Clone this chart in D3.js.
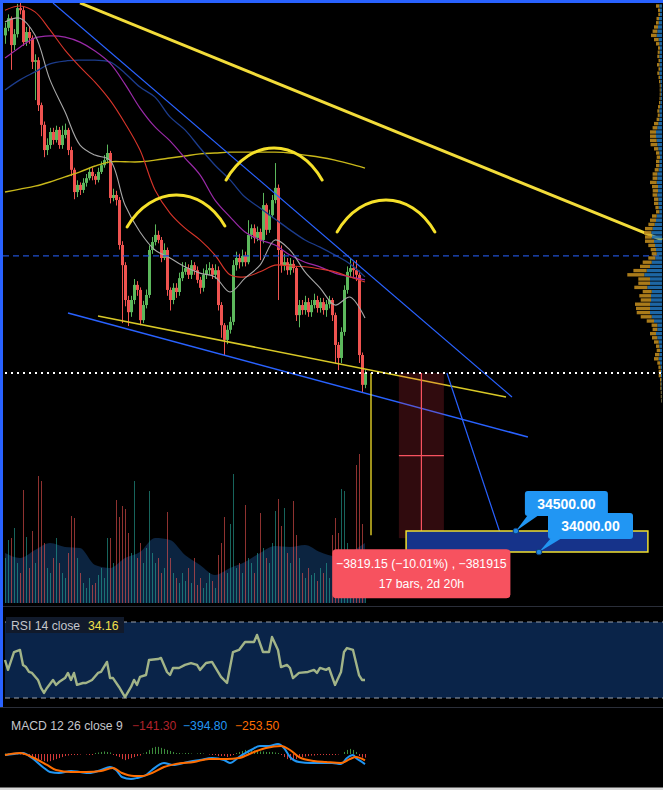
<!DOCTYPE html>
<html><head><meta charset="utf-8">
<script src="https://cdn.jsdelivr.net/npm/d3@7"></script>
<style>html,body{margin:0;padding:0;background:#000;}svg{display:block;}</style>
</head><body>
<script>
// ---------- DATA ----------
const opens=[46300,46480,46710,46070,46330,46950,46900,46140,46380,46240,
45670,45710,44640,44170,43570,43690,44000,43810,44050,43690,
43930,44050,43570,43100,42570,42740,42620,42790,42900,43050,
42950,42860,43050,43210,43330,43500,42430,42500,42380,41310,
40830,40000,39710,40000,40360,40240,39520,39880,40120,41190,
41380,41550,41430,41000,41190,40240,40000,40290,40190,40520,
40670,40760,40600,40830,40710,40480,40290,40600,40710,40760,
40600,40710,39880,39400,39050,39290,39480,40830,41000,40900,
41050,40900,41550,41710,41480,41620,41430,42260,41670,42020,
42380,42670,41190,40830,40900,40710,40860,40760,39640,39880,
39760,39950,39710,39880,40000,39810,39950,39760,39900,40000,
39640,38930,38620,39240,40240,40670,40760,40710,40600,38690,
37980];
const highs=[46600,46800,46750,46450,47050,47100,46980,46500,46500,46300,
45850,45780,44700,44250,43850,44100,44100,44150,44120,44150,
44200,44100,43650,43150,42850,42800,42900,43000,43150,43150,
43000,43150,43300,43450,43700,43550,42650,42600,42450,41400,
40900,40100,40100,40500,40450,40300,39980,40250,41300,41500,
41800,41650,41500,41350,41250,40300,40400,40400,40650,40900,
40900,40850,40950,40900,40800,40550,40750,40850,40900,40850,
40850,40800,39950,39450,39400,39600,40950,41150,41100,41200,
41150,41900,41800,41800,41750,41700,42550,42300,42150,42500,
43260,42750,41300,41100,41000,41000,40950,40800,40000,40000,
40100,40050,40000,40150,40100,40050,40050,40000,40100,40050,
39700,39000,39350,40350,40800,41000,40900,40950,40700,38750,
38330];
const lows=[46100,46400,45480,45950,46250,46800,46050,46050,46100,45500,
44760,44500,43900,43400,43450,43600,43700,43750,43600,43600,
43850,43450,42950,42400,42450,42500,42550,42700,42850,42850,
42750,42800,43000,43150,43250,42300,42350,42250,41200,39450,
39850,39380,39600,39900,40100,39400,39450,39800,40050,41100,
41300,41350,40900,40950,40100,39750,39900,40050,40100,40450,
40600,40500,40500,40600,40400,40150,40200,40500,40600,40500,
40500,39750,39100,38690,38950,39200,39400,40700,40750,40800,
40800,40850,41450,41350,41400,40950,41350,41550,41600,41950,
42300,40000,40650,40700,40600,40600,40650,39500,39350,39650,
39650,39600,39600,39800,39700,39700,39650,39600,39800,39500,
38500,38330,38500,39150,40150,40550,40550,40450,38500,37800,
37900];
const closes=[46480,46710,46070,46330,46950,46900,46140,46380,46240,45670,
45710,44640,44170,43570,43690,44000,43810,44050,43690,43930,
44050,43570,43100,42570,42740,42620,42790,42900,43050,42950,
42860,43050,43210,43330,43500,42430,42500,42380,41310,40830,
40000,39710,40000,40360,40240,39520,39880,40120,41190,41380,
41550,41430,41000,41190,40240,40000,40290,40190,40520,40670,
40760,40600,40830,40710,40480,40290,40600,40710,40760,40600,
40710,39880,39400,39050,39290,39480,40830,41000,40900,41050,
40900,41550,41710,41480,41620,41430,42260,41670,42020,42380,
42670,41190,40830,40900,40710,40860,40760,39640,39880,39760,
39950,39710,39880,40000,39810,39950,39760,39900,40000,39640,
38930,38620,39240,40240,40670,40760,40710,40600,38690,37980,
38260];
const volumes=[900,1260,1300,1500,800,600,2260,1320,700,1440,
800,2540,2440,1200,700,600,900,1300,800,600,
500,1000,1740,1700,900,600,400,300,500,360,
400,560,700,500,1300,1300,800,2060,1720,1940,
1880,1400,1000,2440,900,1200,800,1100,2240,1000,
800,900,600,700,1820,900,600,500,400,600,
440,700,400,900,360,500,300,400,600,440,
300,960,1200,1720,600,1580,2580,700,800,600,
1960,900,800,600,1000,1800,1100,900,800,1200,
1840,2080,1540,1900,1000,800,2040,1360,900,600,
500,700,560,600,440,700,600,800,500,1360,
1700,1400,2280,2240,1200,800,900,2760,2980,1580,
600];
// moving averages sampled every 5 bars
const maBars=[0,5,10,15,20,25,30,35,40,45,50,55,60,65,70,75,80,85,90,95,100,105,110,115,120];
const ma20=[46620,46710,46310,45240,44480,43690,43450,43330,42260,41620,41190,41000,40790,40640,40550,40190,40520,40830,41430,41190,40670,40290,39880,40070,39570];
const ma50=[46900,47000,46860,46430,45950,45550,45190,44760,44210,43570,42620,42070,41710,41430,41070,40600,40550,40670,40830,40810,40790,40740,40670,40550,40430];
const ma100=[45760,46020,46240,46290,46260,46140,45930,45640,45140,44570,44120,43790,43380,42980,42380,41980,41620,41430,41310,41070,40900,40790,40640,40550,40480];
const ma150=[45000,45240,45430,45620,45690,45710,45710,45670,45400,45070,44830,44360,44050,43620,43210,42860,42450,42190,41930,41670,41430,41260,41070,40860,40550];
const ma200=[42570,42640,42710,42810,42930,43050,43190,43290,43290,43290,43330,43380,43430,43480,43500,43520,43520,43520,43520,43500,43450,43400,43330,43240,43140];
const volMA=[1000,900,1060,1200,1120,1100,760,700,900,1020,1300,1260,960,760,560,700,820,1000,1140,1120,1160,1020,940,1020,1200];
// volume profile, rows of 100 from 47000 down
const vpTop=47000, vpStep=100;
const vpDown=[33,20,17,25,27,40,47,57,47,33,
20,20,20,15,25,15,20,15,13,10,
10,10,10,13,20,20,20,27,43,47,
60,60,67,67,43,33,33,33,33,40,
47,47,67,60,53,47,43,43,33,33,
47,60,63,77,73,67,90,67,53,50,
70,90,100,133,170,117,117,130,90,117,
103,150,140,133,110,73,57,47,60,53,
47,33,33,43,47,27,23,23,23,13,
10,10,7,7,5];
const vpUp=[27,20,20,30,33,40,47,53,33,27,
20,23,27,20,25,20,27,20,17,13,
13,13,15,17,20,27,23,27,37,47,
60,60,53,47,37,27,20,27,27,33,
47,47,53,40,40,47,37,37,33,27,
53,60,73,93,107,103,80,70,60,53,
67,103,120,153,177,120,120,147,103,110,
110,120,120,120,103,80,47,47,60,47,
33,27,20,27,33,20,13,10,10,7,
7,7,5,5,5];
// RSI
const rsiBars=[0,1,3,5,6,7,8,9,11,12,13,14,16,17,18,20,21,22,23,24,26,27,29,31,32,34,35,36,38,40,42,43,44,45,47,48,51,52,54,55,56,58,60,62,64,65,67,69,71,72,74,76,78,80,83,84,86,88,89,91,92,94,95,96,98,101,103,104,105,107,108,110,112,113,114,116,118,119,120];
const rsiVals=[50.0,44.8,54.2,55.3,47.4,46.3,43.7,43.2,39.5,35.3,32.7,35.3,39.5,36.9,38.4,40.5,43.2,39.5,43.2,36.9,37.9,37.9,39.5,43.2,43.7,49.0,40.5,40.5,35.8,30.5,35.8,39.5,36.9,41.1,42.1,50.0,50.5,51.1,43.7,42.1,45.8,45.8,47.4,48.4,47.4,44.8,48.4,49.0,43.7,41.1,37.9,54.2,55.3,59.5,59.5,63.2,54.2,54.2,62.1,55.3,46.3,47.4,45.8,40.5,43.2,43.7,44.8,43.2,45.8,44.8,45.8,36.9,43.7,54.2,56.3,55.3,42.1,39.5,39.5];
const rsiLevels=[70,30];
// MACD
const macdBars=[0,3,6,9,13,15,18,22,25,28,32,35,37,39,42,44,47,49,53,56,61,65,69,73,75,78,82,85,88,91,93,95,98,102,106,109,112,114,116,117,119,120];
const macdVals=[-39,0,39,-157,-549,-706,-745,-666,-706,-745,-627,-510,-627,-902,-980,-941,-823,-627,-353,-431,-314,-235,-157,-235,-353,-118,157,314,314,392,235,-118,-314,-353,-353,-353,-392,-157,-39,-157,-314,-395];
const signalBars=[0,5,9,14,17,22,27,32,36,39,43,46,49,53,57,63,68,74,78,83,87,92,95,98,103,107,112,115,117,120];
const signalVals=[-39,39,-118,-431,-627,-706,-706,-666,-549,-745,-862,-862,-745,-510,-392,-314,-196,-196,-157,78,235,314,157,-118,-274,-314,-353,-196,-118,-254];
const histVals=[20,20,10,0,-10,-20,-40,-40,-60,-80,
-160,-200,-240,-280,-300,-280,-240,-200,-160,-120,-80,-60,-40,
-40,-40,-20,0,-20,-40,-40,
40,60,80,100,80,60,
-40,-80,-120,-200,-240,-200,-160,-120,-80,-60,
20,80,160,240,280,280,240,200,160,120,80,
40,40,20,40,40,20,0,20,40,20,0,-20,-40,-40,-80,-80,
-80,-120,-80,-40,
40,80,120,160,160,160,140,120,100,100,80,80,80,60,40,
-40,-120,-200,-240,-240,-200,-160,-120,-100,-80,-60,-60,-40,-40,-40,-40,-40,-40,-40,
-20,0,
80,160,200,160,80,
-80,-140,-141];
// drawings (bar index, price)
const lastPrice=38260, keyLevel=41050;
const resistanceLine=[25,47072,219,41429];
const upperChannel=[16,47072,169,37690];
const wedgeSupport=[31,39619,167,37690];
const lowerChannel=[21,39690,174.3,36738];
const projectionLine=[147.3,38262,166.7,34095];
const hsArcs=[[40.7,41738,57.3,42500,73.3,41762],[73.7,42857,89.7,43619,105.7,42857],[110.7,41619,126.7,42381,143.3,41619]];
const measure={i0:131.3,i1:146.3,p0:38260,p1:34330};
const markerLine=[122,38260,34400];
const targetZone={i0:133.7,i1:214.3,p0:34500,p1:34000};
const targetLabels=[{i:170.3,p:34500,text:"34500.00"},{i:178,p:34000,text:"34000.00"}];
const measureText=["\u22123819.15 (\u221210.01%) , \u2212381915","17 bars, 2d 20h"];
const rsiLabel=["RSI 14 close","34.16"];
const macdLabel=["MACD 12 26 close 9","\u2212141.30","\u2212394.80","\u2212253.50"];

// ---------- DRAW ----------
const W=663,H=790;
const FONT="'Liberation Sans', Arial, sans-serif";
const GREEN="#5cb85c", RED="#ef5350";
const x=d3.scaleLinear().domain([0,120]).range([5,365]);
const y=d3.scaleLinear().domain([34000,47000]).range([552,6]);
const vy=d3.scaleLinear().domain([0,3000]).range([603,453]);
const vpW=d3.scaleLinear().domain([0,100]).range([0,10]);
const rsiY=d3.scaleLinear().domain([30,70]).range([698,622]);
const macdY=d3.scaleLinear().domain([-1000,1000]).range([779.5,728.5]);

const svg=d3.select("body").append("svg").attr("width",W).attr("height",H);
svg.append("rect").attr("width",W).attr("height",H).attr("fill","#000");
const defs=svg.append("defs");
defs.append("clipPath").attr("id","mainClip").append("rect").attr("x",3).attr("y",3).attr("width",660).attr("height",601);
defs.append("clipPath").attr("id","rsiClip").append("rect").attr("x",3).attr("y",608).attr("width",660).attr("height",98);
defs.append("clipPath").attr("id","macdClip").append("rect").attr("x",0).attr("y",709).attr("width",663).attr("height",78);

const main=svg.append("g").attr("clip-path","url(#mainClip)");

// volume MA area
main.append("path").datum(maBars.map((b,k)=>[b,volMA[k]]))
  .attr("d",d3.area().x(d=>x(d[0])).y0(vy(0)).y1(d=>vy(d[1])).curve(d3.curveMonotoneX))
  .attr("fill","#0c2440");
// volume bars
const up=i=>closes[i]>=opens[i];
main.append("g").selectAll("rect").data(volumes).join("rect")
  .attr("x",(d,i)=>Math.round(x(i))).attr("width",1)
  .attr("y",d=>vy(d)).attr("height",d=>vy(0)-vy(d))
  .attr("fill",(d,i)=>up(i)?"rgba(38,166,154,0.6)":"rgba(239,83,80,0.6)");
main.append("line").attr("x1",3).attr("x2",W).attr("y1",604.5).attr("y2",604.5).attr("stroke","#2a2e39");

// candles
const cg=main.append("g");
closes.forEach((c,i)=>{
  const o=opens[i], col=up(i)?GREEN:RED, cx=Math.round(x(i));
  cg.append("rect").attr("x",cx).attr("width",1).attr("y",y(highs[i])).attr("height",y(lows[i])-y(highs[i])).attr("fill",col);
  const top=y(Math.max(o,c)), bot=y(Math.min(o,c));
  cg.append("rect").attr("x",cx-1).attr("width",3).attr("y",top).attr("height",Math.max(1,bot-top)).attr("fill",col);
});

// moving averages
const maLine=d3.line().x(d=>x(d[0])).y(d=>y(d[1])).curve(d3.curveCatmullRom.alpha(0.5));
[[ma200,"#c9b81a",1.4],[ma150,"#1c3c8c",1.3],[ma100,"#9a2aa8",1.2],[ma50,"#d8352a",1.1],[ma20,"#a8a8a8",1.1]].forEach(([arr,col,w])=>{
  main.append("path").datum(maBars.map((b,k)=>[b,arr[k]])).attr("d",maLine)
    .attr("fill","none").attr("stroke",col).attr("stroke-width",w);
});

// key level dashed
main.append("line").attr("x1",3).attr("x2",W).attr("y1",y(keyLevel)).attr("y2",y(keyLevel))
  .attr("stroke","#1f4fcf").attr("stroke-width",1.4).attr("stroke-dasharray","6,4");

// trend lines
function seg(a,col,w){
  main.append("line").attr("x1",x(a[0])).attr("y1",y(a[1])).attr("x2",x(a[2])).attr("y2",y(a[3]))
    .attr("stroke",col).attr("stroke-width",w);
}
seg(upperChannel,"#2962ff",1.2);
seg(lowerChannel,"#2962ff",1.5);
seg(wedgeSupport,"#d9c927",1.5);
seg(resistanceLine,"#f2dc3a",3);
seg(projectionLine,"#2962ff",1.2);

// volume profile (over the long line)
const vpG=main.append("g");
vpDown.forEach((g,k)=>{
  const p=vpTop-k*vpStep, yc=y(p), b=vpW(vpUp[k]), gw=vpW(g);
  vpG.append("rect").attr("x",662-b).attr("width",b).attr("y",yc-1.7).attr("height",3.4).attr("fill","#1f6fb2").attr("fill-opacity",0.92);
  vpG.append("rect").attr("x",662-b-gw).attr("width",gw).attr("y",yc-1.7).attr("height",3.4).attr("fill","#b8861c").attr("fill-opacity",0.92);
});

// head & shoulders arcs
hsArcs.forEach(a=>{
  const x0=x(a[0]),y0=y(a[1]),yp=y(a[3]),x1=x(a[4]),y1=y(a[5]);
  const base=(y0+y1)/2, h=base-yp, c=(x1-x0)/2, k=4*h/3;
  const p=d3.path();
  p.moveTo(x0,y0);
  p.bezierCurveTo(x0+0.5*c,y0-k,x1-0.5*c,y1-k,x1,y1);
  main.append("path").attr("d",p.toString()).attr("fill","none").attr("stroke","#f5e02a").attr("stroke-width",3).attr("stroke-linecap","round");
});

// measure box
const mx0=x(measure.i0), mx1=x(measure.i1), my0=y(measure.p0), my1=y(measure.p1), mcx=(mx0+mx1)/2;
main.append("rect").attr("x",mx0).attr("y",my0).attr("width",mx1-mx0).attr("height",my1-my0).attr("fill","rgba(242,54,69,0.2)");
const mmid=y((measure.p0+measure.p1)/2);
main.append("line").attr("x1",mx0).attr("x2",mx1).attr("y1",mmid).attr("y2",mmid).attr("stroke","#f7525f").attr("stroke-width",1.2);
main.append("line").attr("x1",mcx).attr("x2",mcx).attr("y1",my0).attr("y2",my1).attr("stroke","#f7525f").attr("stroke-width",1.2);
main.append("path").attr("d",`M${mcx-5},${my1-6}L${mcx},${my1}L${mcx+5},${my1-6}`).attr("fill","none").attr("stroke","#f7525f").attr("stroke-width",1.2);

// yellow vertical marker
main.append("line").attr("x1",x(markerLine[0])).attr("x2",x(markerLine[0])).attr("y1",y(markerLine[1])).attr("y2",y(markerLine[2]))
  .attr("stroke","#f5e02a").attr("stroke-width",1.3);

// last price dotted
main.append("line").attr("x1",5).attr("x2",W).attr("y1",Math.round(y(lastPrice))).attr("y2",Math.round(y(lastPrice)))
  .attr("stroke","#fff").attr("stroke-width",2).attr("stroke-dasharray","2,4");

// target zone
main.append("rect").attr("x",x(targetZone.i0)).attr("y",y(targetZone.p0)).attr("width",x(targetZone.i1)-x(targetZone.i0))
  .attr("height",y(targetZone.p1)-y(targetZone.p0)).attr("fill","#16338a").attr("stroke","#f0e030").attr("stroke-width",1.5);

// callouts
const offs=[{dx:9,dy:-40,w:83,h:25},{dx:9,dy:-39,w:85,h:26}];
targetLabels.forEach((t,k)=>{
  const ax=x(t.i), ay=y(t.p), o=offs[k];
  const bx=ax+o.dx, by=ay+o.dy;
  const gL=main.append("g");
  gL.append("path").attr("d",`M${bx+3},${by+o.h-1}L${bx+14},${by+o.h-1}L${ax},${ay}Z`).attr("fill","#2196f3");
  gL.append("rect").attr("x",bx).attr("y",by).attr("width",o.w).attr("height",o.h).attr("rx",3).attr("fill","#2196f3");
  gL.append("text").attr("x",bx+o.w/2).attr("y",by+o.h/2+5).attr("text-anchor","middle").attr("fill","#fff")
    .attr("font-family",FONT).attr("font-weight","bold").attr("font-size",14).text(t.text);
  gL.append("circle").attr("cx",ax).attr("cy",ay).attr("r",2.8).attr("fill","#1e88e5").attr("stroke","#0d3f7a").attr("stroke-width",1);
});

// measure label
const lb=main.append("g");
lb.append("rect").attr("x",mcx-89).attr("y",my1+11).attr("width",178).attr("height",49).attr("rx",4).attr("fill","#f7525f");
lb.append("text").attr("x",mcx).attr("y",my1+30).attr("text-anchor","middle").attr("fill","#fff").attr("font-family",FONT).attr("font-size",12.3).text(measureText[0]);
lb.append("text").attr("x",mcx).attr("y",my1+50).attr("text-anchor","middle").attr("fill","#fff").attr("font-family",FONT).attr("font-size",12.3).text(measureText[1]);

// ---------- RSI pane ----------
svg.append("line").attr("x1",0).attr("x2",W).attr("y1",606.5).attr("y2",606.5).attr("stroke","#2a2e39");
const rsiG=svg.append("g").attr("clip-path","url(#rsiClip)");
rsiG.append("rect").attr("x",5).attr("y",rsiY(70)).attr("width",W-5).attr("height",rsiY(30)-rsiY(70)).attr("fill","#0a2449");
rsiLevels.forEach(l=>rsiG.append("line").attr("x1",5).attr("x2",W).attr("y1",rsiY(l)).attr("y2",rsiY(l))
  .attr("stroke","#9aa0ab").attr("stroke-width",1).attr("stroke-dasharray","5,4"));
rsiG.append("path").datum(rsiBars.map((b,k)=>[b,rsiVals[k]]))
  .attr("d",d3.line().x(d=>x(d[0])).y(d=>rsiY(d[1])))
  .attr("fill","none").attr("stroke","#a2b488").attr("stroke-width",2.4).attr("stroke-linejoin","round");
rsiG.append("rect").attr("x",6).attr("y",617).attr("width",118).attr("height",16).attr("fill","#111a2b");
rsiG.append("text").attr("x",11).attr("y",630).attr("fill","#c4c6cc").attr("font-family",FONT).attr("font-size",12.2).text(rsiLabel[0]);
rsiG.append("text").attr("x",88).attr("y",630).attr("fill","#f2e14c").attr("font-family",FONT).attr("font-size",12.2).text(rsiLabel[1]);

// ---------- MACD pane ----------
svg.append("line").attr("x1",0).attr("x2",W).attr("y1",707.5).attr("y2",707.5).attr("stroke","#2a2e39");
const mg=svg.append("g").attr("clip-path","url(#macdClip)");
mg.append("g").selectAll("rect").data(histVals).join("rect")
  .attr("x",(d,i)=>Math.round(x(i))).attr("width",1)
  .attr("y",d=>Math.min(macdY(d),macdY(0))).attr("height",d=>Math.abs(macdY(d)-macdY(0)))
  .attr("fill",d=>d>=0?"#3c8c3c":"#d43a3a");
const ml=d3.line().x(d=>x(d[0])).y(d=>macdY(d[1])).curve(d3.curveMonotoneX);
mg.append("path").datum(macdBars.map((b,k)=>[b,macdVals[k]])).attr("d",ml).attr("fill","none").attr("stroke","#2196f3").attr("stroke-width",2);
mg.append("path").datum(signalBars.map((b,k)=>[b,signalVals[k]])).attr("d",ml).attr("fill","none").attr("stroke","#ff6d00").attr("stroke-width",2);
const mcols=["#c4c6cc","#b2232b","#2196f3","#ff6d00"], mxs=[11,132,183,235];
macdLabel.forEach((t,k)=>mg.append("text").attr("x",mxs[k]).attr("y",730).attr("fill",mcols[k]).attr("font-family",FONT).attr("font-size",12.2).text(t));

// bottom line & selection borders
svg.append("rect").attr("x",0).attr("y",787.5).attr("width",W).attr("height",2.5).attr("fill","#d8d8d8");
svg.append("rect").attr("x",0).attr("y",0).attr("width",W).attr("height",3).attr("fill","#2962ff");
svg.append("rect").attr("x",0).attr("y",0).attr("width",3).attr("height",707).attr("fill","#2962ff");
</script>
</body></html>
